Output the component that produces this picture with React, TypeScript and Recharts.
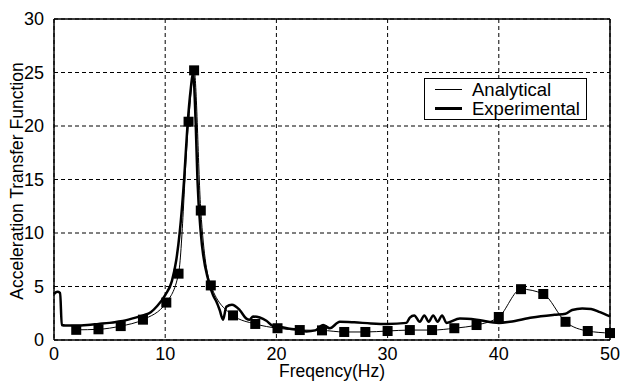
import { LineChart, Line, XAxis, YAxis, CartesianGrid, ReferenceLine, Legend } from "recharts";

const freqTicks = [0, 10, 20, 30, 40, 50];
const ampTicks = [0, 5, 10, 15, 20, 25, 30];

// analytical curve, sampled where the square markers sit
const analyticalFreq = [2, 4, 6, 8, 10.1, 11.2, 12.1, 12.6, 13.2, 14.1, 16.1, 18.1, 20.1, 22.1, 24.1, 26.1, 28, 30, 32, 34, 36, 38, 40, 42, 44, 46, 48, 50];
const analyticalAmp = [0.95, 1.0, 1.3, 1.9, 3.5, 6.2, 20.4, 25.2, 12.1, 5.1, 2.3, 1.5, 1.1, 0.93, 0.9, 0.75, 0.75, 0.84, 0.93, 0.93, 1.1, 1.4, 2.15, 4.75, 4.3, 1.7, 0.84, 0.65];

const experimentalFreq = [0, 0.3, 0.55, 0.7, 1, 2, 3, 4, 5, 6, 7, 8, 8.7, 9.3, 10, 10.6, 11, 11.3, 11.7, 12, 12.3, 12.5, 12.75, 12.9, 13.2, 13.9, 14.3, 14.6, 14.9, 15.2, 15.5, 16, 16.7, 17.3, 17.6, 17.9, 18.5, 19.1, 19.7, 20.5, 21.2, 22, 22.7, 23.5, 24.2, 24.8, 25.7, 27, 28.5, 30, 31.7, 32, 32.4, 32.9, 33.3, 33.7, 34.1, 34.5, 34.9, 35.3, 36.5, 38, 40, 41, 43, 45, 46, 46.6, 47.5, 48.3, 49.1, 50];
const experimentalAmp = [4.3, 4.5, 4.4, 1.4, 1.35, 1.35, 1.4, 1.5, 1.6, 1.75, 2.0, 2.3, 2.6, 3.2, 4.2, 5.5, 7.5, 10, 15, 20, 23.5, 25, 20, 15, 10, 5.5, 4.2, 3.6, 2.8, 1.9, 3.1, 3.3, 2.8, 2.0, 1.9, 2.2, 2.1, 1.8, 1.3, 1.2, 1.05, 0.95, 0.8, 0.9, 1.4, 1.1, 1.7, 1.65, 1.55, 1.5, 1.6, 2.1, 2.3, 1.7, 2.3, 1.7, 2.3, 1.7, 2.3, 1.6, 2.0, 1.9, 1.6, 1.7, 2.1, 2.35, 2.45, 2.8, 2.95, 2.9, 2.6, 2.2];

const analytical = analyticalFreq.map((f, i) => ({ f, a: analyticalAmp[i] }));
const experimental = experimentalFreq.map((f, i) => ({ f, e: experimentalAmp[i] }));

const font = "'Liberation Sans', Arial, sans-serif";

const Square = (props: any) => {
  const { cx, cy, index } = props;
  if (cx == null || cy == null) return <g key={index} />;
  return <rect key={index} x={cx - 5} y={cy - 5} width={10} height={10} fill="#000" />;
};

const LegendBox = () => (
  <div
    style={{
      border: "1px solid #000",
      background: "#fff",
      width: 163,
      height: 42,
      boxSizing: "border-box",
      fontFamily: font,
      fontSize: 18.5,
      lineHeight: "19px",
      paddingTop: 1,
    }}
  >
    <div style={{ display: "flex", alignItems: "center" }}>
      <div style={{ width: 27, height: 1, background: "#000", marginLeft: 10, marginRight: 10 }} />
      <span>Analytical</span>
    </div>
    <div style={{ display: "flex", alignItems: "center" }}>
      <div style={{ width: 27, height: 2.5, background: "#000", marginLeft: 10, marginRight: 10 }} />
      <span>Experimental</span>
    </div>
  </div>
);

export default function App() {
  return (
    <div style={{ position: "absolute", left: 0, top: 0, background: "#fff" }}>
      <LineChart width={628} height={382} margin={{ top: 19, right: 18, bottom: 0, left: 0 }}>
        <CartesianGrid stroke="#000" strokeDasharray="4 3" strokeWidth={1} />
        <XAxis
          type="number"
          dataKey="f"
          domain={[0, 50]}
          ticks={freqTicks}
          allowDuplicatedCategory={false}
          height={42}
          tickLine={false}
          axisLine={{ stroke: "#000", strokeWidth: 1.5 }}
          tick={{ fill: "#000", fontSize: 18, fontFamily: font }}
          tickMargin={1}
          label={{
            content: () => (
              <text x={332} y={377} textAnchor="middle" fill="#000" fontSize={17.5} fontFamily={font}>
                Freqency(Hz)
              </text>
            ),
          }}
        />
        <YAxis
          type="number"
          domain={[0, 30]}
          ticks={ampTicks}
          width={54}
          tickLine={false}
          axisLine={{ stroke: "#000", strokeWidth: 1.5 }}
          tick={{ fill: "#000", fontSize: 18, fontFamily: font }}
          tickMargin={4}
          label={{
            content: () => (
              <text
                x={23}
                y={181}
                textAnchor="middle"
                transform="rotate(-90 23 181)"
                fill="#000"
                fontSize={17.5}
                fontFamily={font}
              >
                Acceleration Transfer Function
              </text>
            ),
          }}
        />
        <ReferenceLine y={30} stroke="#000" strokeWidth={1.5} />
        <ReferenceLine x={50} stroke="#000" strokeWidth={1.5} />
        <Legend
          layout="horizontal"
          verticalAlign="middle"
          align="center"
          wrapperStyle={{ position: "absolute", left: 424, top: 78, width: 163 }}
          content={() => <LegendBox />}
        />
        <Line
          data={experimental}
          dataKey="e"
          type="monotone"
          stroke="#000"
          strokeWidth={2.5}
          dot={false}
          isAnimationActive={false}
        />
        <Line
          data={analytical}
          dataKey="a"
          type="monotone"
          stroke="#000"
          strokeWidth={1}
          dot={<Square />}
          activeDot={false}
          isAnimationActive={false}
        />
      </LineChart>
    </div>
  );
}
